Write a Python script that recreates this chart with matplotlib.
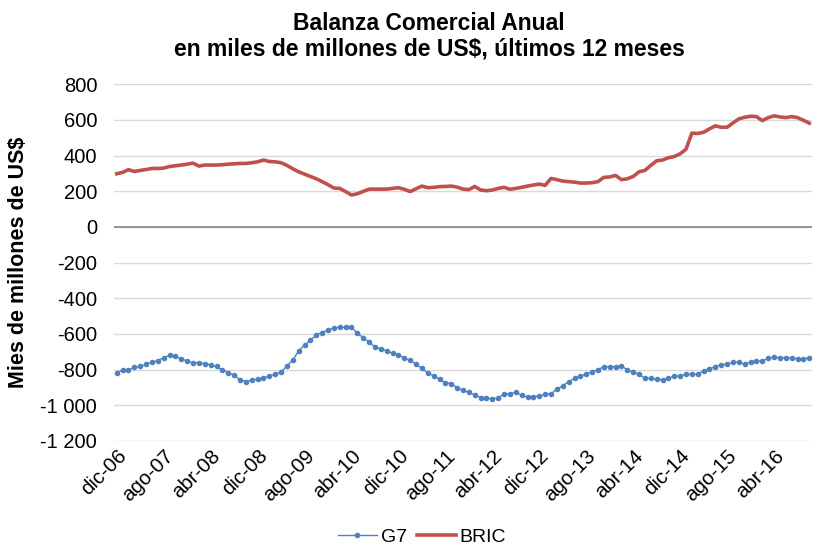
import matplotlib
matplotlib.use('Agg')
import matplotlib.pyplot as plt

plt.rcParams['font.family'] = ['Liberation Sans', 'DejaVu Sans']

# Saldo comercial 12 meses, dic-06 a oct-16 (miles de millones de US$)
g7 = [-820, -803, -802, -788, -783, -770, -759, -751, -733, -721,
      -727, -740, -753, -762, -762, -768, -774, -783, -802, -818,
      -833, -857, -869, -859, -854, -848, -835, -828, -815, -779,
      -747, -695, -664, -637, -604, -593, -578, -567, -563, -563,
      -563, -596, -622, -645, -675, -684, -695, -710, -718, -736,
      -749, -770, -794, -820, -835, -856, -874, -880, -902, -917,
      -928, -943, -958, -960, -964, -958, -939, -936, -928, -945,
      -954, -952, -949, -939, -936, -911, -891, -869, -850, -839,
      -824, -815, -800, -785, -785, -785, -779, -803, -816, -826,
      -850, -850, -854, -857, -850, -837, -837, -824, -826, -826,
      -807, -796, -785, -773, -770, -760, -760, -770, -757, -751,
      -753, -736, -731, -734, -733, -734, -740, -740, -734]

bric = [298, 306, 321, 311, 317, 322, 328, 328, 330, 339,
        343, 347, 352, 358, 341, 347, 347, 347, 349, 352,
        354, 356, 356, 360, 365, 375, 367, 365, 360, 345,
        326, 309, 296, 283, 270, 254, 237, 218, 216, 198,
        179, 186, 199, 212, 212, 212, 212, 216, 220, 211,
        198, 214, 229, 220, 222, 226, 227, 229, 223, 212,
        209, 227, 207, 203, 207, 216, 222, 211, 216, 222,
        229, 235, 240, 233, 272, 265, 257, 254, 251, 246,
        246, 248, 254, 278, 280, 289, 265, 270, 283, 309,
        317, 345, 371, 375, 388, 395, 410, 436, 526, 524,
        531, 550, 567, 559, 559, 583, 606, 615, 621, 619,
        596, 613, 623, 617, 613, 619, 613, 598, 582]

tick_labels = ['dic-06', 'ago-07', 'abr-08', 'dic-08', 'ago-09', 'abr-10',
               'dic-10', 'ago-11', 'abr-12', 'dic-12', 'ago-13', 'abr-14',
               'dic-14', 'ago-15', 'abr-16']

x = list(range(len(g7)))

fig = plt.figure(figsize=(8.13, 5.51), dpi=100)
ax = fig.add_axes([0.140, 0.200, 0.859, 0.647])

ax.plot(x, g7, color='#4F81BD', linewidth=1.0, marker='o', markersize=3.0, label='G7')
ax.plot(x, bric, color='#C0504D', linewidth=2.6, label='BRIC')

ax.set_ylim(-1200, 800)
ax.set_xlim(-0.5, len(g7) - 0.5)
ax.set_yticks(range(-1200, 801, 200))
ax.set_yticklabels([f"{v:,}".replace(',', ' ') for v in range(-1200, 801, 200)])
ax.grid(axis='y', color='#D9D9D9', linewidth=1)
ax.set_axisbelow(True)
ax.axhline(0, color='#868686', linewidth=1.2, zorder=1)

for s in ax.spines.values():
    s.set_visible(False)
ax.tick_params(axis='both', length=0, colors='black')
ax.tick_params(axis='y', pad=12, labelsize=14.5)

ax.set_xticks(range(0, len(g7), 8))
ax.set_xticklabels(tick_labels, rotation=45, ha='right', va='top', rotation_mode='anchor')
ax.tick_params(axis='x', pad=4, labelsize=14.8)

ax.set_ylabel('Mies de millones de US$', fontsize=15.5, fontweight='bold', labelpad=8)

fig.suptitle('Balanza Comercial Anual\nen miles de millones de US$, últimos 12 meses',
             x=0.528, y=0.978, fontsize=16.5, fontweight='bold', linespacing=1.15)

fig.legend(loc='lower center', bbox_to_anchor=(0.519, -0.012), ncol=2, frameon=False,
           fontsize=14, handlelength=2.0, columnspacing=0.5, handletextpad=0.2,
           borderpad=0.1)

fig.savefig('out.png', dpi=100)
